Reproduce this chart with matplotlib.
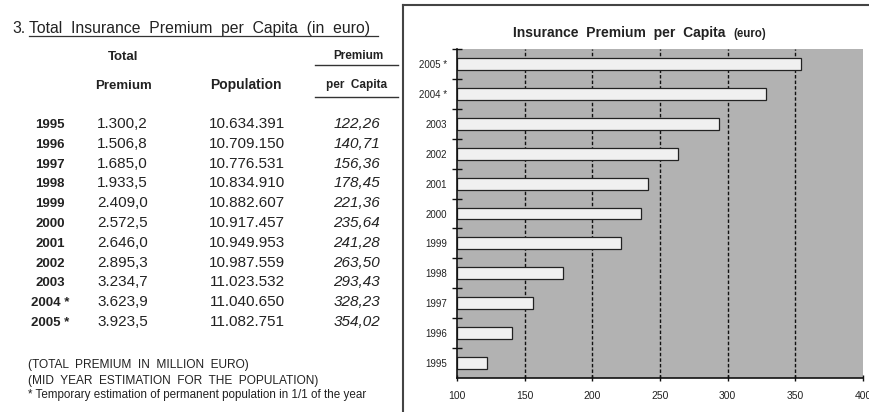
import matplotlib
matplotlib.use("Agg")
import matplotlib.pyplot as plt
from matplotlib.lines import Line2D

plt.rcParams['font.family'] = ['Liberation Sans', 'DejaVu Sans']

years = ["1995", "1996", "1997", "1998", "1999", "2000", "2001", "2002", "2003", "2004 *", "2005 *"]
total_premium = ["1.300,2", "1.506,8", "1.685,0", "1.933,5", "2.409,0", "2.572,5",
                 "2.646,0", "2.895,3", "3.234,7", "3.623,9", "3.923,5"]
population = ["10.634.391", "10.709.150", "10.776.531", "10.834.910", "10.882.607", "10.917.457",
              "10.949.953", "10.987.559", "11.023.532", "11.040.650", "11.082.751"]
per_capita = [122.26, 140.71, 156.36, 178.45, 221.36, 235.64, 241.28, 263.50, 293.43, 328.23, 354.02]
x_ticks = [100, 150, 200, 250, 300, 350, 400]

W, H = 869, 412
fig = plt.figure(figsize=(W / 100, H / 100), dpi=100)


def fx(px):
    return px / W


def fy(py):
    return 1 - py / H


def ftext(x, y, s, **kw):
    kw.setdefault('va', 'baseline')
    fig.text(fx(x), fy(y), s, **kw)


def fline(x0, y0, x1, y1, **kw):
    fig.add_artist(Line2D([fx(x0), fx(x1)], [fy(y0), fy(y1)], transform=fig.transFigure, **kw))


# ---- Left: table ----
ftext(12, 33, "3.", fontsize=11.3, color='#222222')
ftext(29, 33, "Total  Insurance  Premium  per  Capita  (in  euro)", fontsize=11.3, color='#222222')
fline(29, 36, 378, 36, color='#333333', lw=0.9)

ftext(123, 60, "Total", fontsize=9.5, fontweight='bold', ha='center', color='#222222')
ftext(123, 89, "Premium", fontsize=9.5, fontweight='bold', ha='center', color='#222222')
ftext(246, 89, "Population", fontsize=10, fontweight='bold', ha='center', color='#222222')
ftext(358, 59, "Premium", fontsize=8.5, fontweight='bold', ha='center', color='#222222')
fline(315, 64.5, 398, 64.5, color='#333333', lw=1.0)
ftext(357, 88, "per  Capita", fontsize=8.5, fontweight='bold', ha='center', color='#222222')
fline(315, 97, 398, 97, color='#333333', lw=1.0)

for i, yr in enumerate(years):
    base = 128 + 19.8 * i
    ftext(50, base, yr, fontsize=9.5, fontweight='bold', ha='center', color='#222222')
    ftext(148, base, total_premium[i], fontsize=11, ha='right', color='#222222')
    ftext(285, base, population[i], fontsize=11, ha='right', color='#222222')
    ftext(380, base, f"{per_capita[i]:.2f}".replace('.', ','), fontsize=11, ha='right',
          style='italic', color='#222222')

ftext(28, 368, "(TOTAL  PREMIUM  IN  MILLION  EURO)", fontsize=8.6, color='#222222')
ftext(28, 384, "(MID  YEAR  ESTIMATION  FOR  THE  POPULATION)", fontsize=8.6, color='#222222')
ftext(28, 398, "* Temporary estimation of permanent population in 1/1 of the year", fontsize=8.4,
      color='#222222')

# ---- Right: panel box ----
fline(403, 4.5, 403, 412, color='#444444', lw=1.5)
fline(403, 4.5, 869, 4.5, color='#444444', lw=1.5)

ftext(513, 37, "Insurance  Premium  per  Capita", fontsize=10, fontweight='bold', color='#222222')
ftext(733, 37, "(euro)", fontsize=8.3, fontweight='bold', color='#222222')

ax = fig.add_axes([fx(457), fy(378), fx(863) - fx(457), (378 - 49) / H])
ax.set_facecolor('#b2b2b2')
ypos = list(range(len(years)))
for xv in x_ticks[1:-1]:
    ax.axvline(xv, color='#111111', lw=1.0, ls=(0, (2.5, 1.5)), zorder=1)
ax.barh(ypos, [v - 100 for v in per_capita], left=100, height=0.4, color='#f0f0f0',
        edgecolor='#222222', linewidth=0.9, zorder=2)
ax.set_xlim(100, 400)
ax.set_ylim(-0.5, len(years) - 0.5)
ax.set_xticks(x_ticks)
ax.set_xticklabels([str(t) for t in x_ticks], fontsize=7.5, color='#222222')
ax.set_yticks(ypos)
ax.set_yticklabels(years, fontsize=7, color='#222222')
ax.set_yticks([k + 0.5 for k in range(len(years))], minor=True)
ax.tick_params(axis='y', which='major', length=0, pad=7)
ax.tick_params(axis='y', which='minor', direction='inout', length=7, width=1, color='#111111')
ax.tick_params(axis='x', which='major', direction='inout', length=5, width=1, pad=7, color='#111111')
for side in ['top', 'right']:
    ax.spines[side].set_visible(False)
for side in ['left', 'bottom']:
    ax.spines[side].set_color('#111111')
    ax.spines[side].set_linewidth(1.2)

fig.savefig("out.png", dpi=100)
